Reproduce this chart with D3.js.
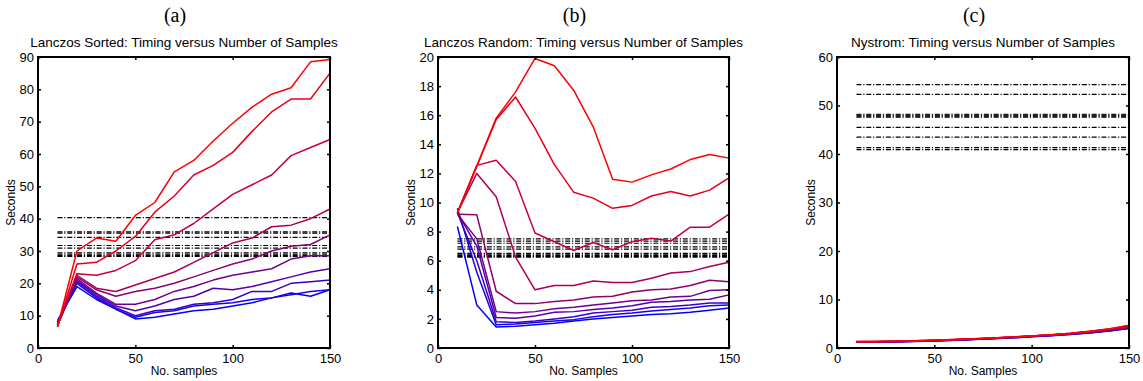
<!DOCTYPE html>
<html lang="en">
<head>
<meta charset="utf-8">
<script src="https://d3js.org/d3.v7.min.js"></script>
<style>
  body { margin: 0; background: #fff; }
  text { font-family: "Liberation Sans", Arial, sans-serif; fill: #000; }
</style>
</head>
<body>
<script>
// sample counts on the x axis
var samples = [10, 20, 30, 40, 50, 60, 70, 80, 90, 100, 110, 120, 130, 140, 150];
var xTicks = [0, 50, 100, 150];

// (a) Lanczos sorted, red -> blue
var sortedSeries = [
  [6.5, 30, 34, 33, 41, 45, 54.5, 58, 64, 69.5, 74.5, 78.5, 80.5, 88.5, 89.2],
  [6.5, 26, 26.5, 30, 34.5, 42, 47, 53.5, 56.5, 60.5, 67, 73, 77, 77, 85],
  [7, 23, 22.5, 24, 27, 33.5, 35, 38.5, 43, 47.5, 50.5, 53.5, 59.5, 62, 64.5],
  [7, 22.5, 18.5, 17.5, 19.5, 21.5, 23.5, 26.5, 29.5, 32.5, 34, 37.5, 38, 40, 43],
  [7, 22, 18, 16, 17.5, 18.5, 20, 22, 24, 26, 27.5, 30, 31.5, 32, 35],
  [7, 21.5, 17, 13.5, 13.5, 15, 17.5, 19, 21, 22.5, 23.5, 24.5, 27.5, 28.5, 28.5],
  [7, 21, 16.5, 13, 11.5, 13, 15, 16, 18.5, 18, 19, 20.5, 22, 23.5, 24.5],
  [7.5, 20.5, 16, 12.5, 10, 11.5, 12, 13.5, 14, 15, 17.5, 17.5, 20, 20.5, 21],
  [8, 20, 15.5, 12, 9.5, 11, 11.5, 13, 13.5, 14, 15, 15.5, 16.5, 17.5, 18],
  [8.5, 19, 15, 12, 9, 9.5, 10.5, 11.5, 12, 13, 14, 15.5, 17, 16, 18]
];
var sortedRefs = [40.3, 35.9, 35.5, 34.2, 31.7, 30.9, 29.4, 29.0, 28.6, 28.3];
var sortedTicks = [0, 10, 20, 30, 40, 50, 60, 70, 80, 90];

// (b) Lanczos random
var randomSeries = [
  [9.3, 12.5, 15.8, 17.6, 19.9, 19.4, 17.7, 15.2, 11.6, 11.4, 11.9, 12.3, 12.95, 13.3, 13.05],
  [9.3, 12.5, 15.7, 17.25, 15.1, 12.6, 10.7, 10.3, 9.6, 9.8, 10.45, 10.75, 10.45, 10.85, 11.7],
  [9.3, 12.55, 12.9, 11.45, 7.9, 7.3, 6.7, 7.25, 6.75, 7.3, 7.55, 7.35, 8.3, 8.3, 9.2],
  [9.3, 12.0, 10.4, 6.25, 4.0, 4.3, 4.3, 4.6, 4.5, 4.5, 4.8, 5.15, 5.25, 5.6, 5.9],
  [9.2, 9.15, 3.9, 3.05, 3.05, 3.2, 3.3, 3.5, 3.55, 3.85, 4.0, 4.05, 4.3, 4.65, 4.55],
  [9.2, 7.5, 2.5, 2.4, 2.5, 2.7, 2.8, 2.95, 3.1, 3.25, 3.3, 3.5, 3.55, 3.95, 4.0],
  [9.3, 7.0, 2.1, 2.05, 2.2, 2.45, 2.5, 2.65, 2.75, 2.9, 3.15, 3.2, 3.3, 3.35, 3.65],
  [9.3, 6.0, 1.8, 1.75, 1.85, 2.0, 2.15, 2.4, 2.5, 2.6, 2.8, 2.85, 2.95, 3.1, 3.1],
  [9.6, 5.2, 1.6, 1.65, 1.75, 1.85, 1.95, 2.15, 2.3, 2.4, 2.55, 2.65, 2.75, 2.9, 2.95],
  [8.35, 2.95, 1.45, 1.5, 1.6, 1.7, 1.85, 2.0, 2.1, 2.2, 2.3, 2.35, 2.45, 2.6, 2.75]
];
var randomRefs = [7.5, 7.35, 7.2, 6.95, 6.8, 6.5, 6.45, 6.35, 6.3, 6.25];
var randomTicks = [0, 2, 4, 6, 8, 10, 12, 14, 16, 18, 20];

// (c) Nystrom
var nystromSeries = [
  [1.35, 1.35, 1.4, 1.5, 1.6, 1.75, 1.9, 2.05, 2.25, 2.5, 2.75, 3.05, 3.45, 3.95, 4.7],
  [1.35, 1.35, 1.4, 1.5, 1.6, 1.75, 1.9, 2.05, 2.25, 2.5, 2.75, 3.05, 3.45, 3.9, 4.6],
  [1.3, 1.35, 1.4, 1.5, 1.6, 1.7, 1.85, 2.05, 2.25, 2.45, 2.7, 3.0, 3.4, 3.85, 4.5],
  [1.3, 1.3, 1.35, 1.45, 1.55, 1.7, 1.85, 2.0, 2.2, 2.45, 2.7, 3.0, 3.35, 3.8, 4.45],
  [1.3, 1.3, 1.35, 1.45, 1.55, 1.7, 1.85, 2.0, 2.2, 2.45, 2.7, 2.95, 3.35, 3.75, 4.35],
  [1.3, 1.3, 1.35, 1.45, 1.55, 1.65, 1.8, 2.0, 2.2, 2.4, 2.65, 2.95, 3.3, 3.7, 4.3],
  [1.25, 1.3, 1.35, 1.4, 1.5, 1.65, 1.8, 1.95, 2.15, 2.4, 2.65, 2.9, 3.25, 3.65, 4.2],
  [1.25, 1.25, 1.3, 1.4, 1.5, 1.65, 1.8, 1.95, 2.15, 2.35, 2.6, 2.9, 3.2, 3.6, 4.15],
  [1.25, 1.25, 1.3, 1.4, 1.5, 1.6, 1.75, 1.95, 2.1, 2.35, 2.6, 2.85, 3.15, 3.55, 4.05],
  [1.2, 1.25, 1.3, 1.35, 1.45, 1.6, 1.75, 1.9, 2.1, 2.3, 2.55, 2.8, 3.1, 3.5, 4.0]
];
var nystromRefs = [54.3, 52.3, 48.2, 48.0, 47.8, 47.6, 45.5, 43.5, 41.3, 40.9];
var nystromTicks = [0, 10, 20, 30, 40, 50, 60];

var svg = d3.select("body").append("svg")
  .attr("width", 1143)
  .attr("height", 381);

var plotTop = 57, plotBottom = 348;

// MATLAB style red -> blue ramp
function lineColor(i, n) {
  return d3.interpolateRgb("#ff0000", "#0000ff")(i / (n - 1));
}

function panel(opt) {
  var x = d3.scaleLinear().domain([0, 150]).range([opt.left, opt.right]);
  var y = d3.scaleLinear().domain([0, opt.ymax]).range([plotBottom, plotTop]);
  var g = svg.append("g");
  var mid = (opt.left + opt.right) / 2;

  g.append("text")
    .attr("x", mid - 9).attr("y", 22)
    .attr("text-anchor", "middle")
    .style("font-family", "'Liberation Serif', 'Times New Roman', serif")
    .style("font-size", "20px")
    .text(opt.letter);

  g.append("text")
    .attr("x", mid).attr("y", 47)
    .attr("text-anchor", "middle")
    .style("font-size", "13.5px")
    .text(opt.title);

  // reference timings: black dash-dot lines
  g.selectAll(".ref").data(opt.refs).enter().append("line")
    .attr("x1", x(10)).attr("x2", x(150))
    .attr("y1", function (d) { return y(d); })
    .attr("y2", function (d) { return y(d); })
    .attr("stroke", "#000")
    .attr("stroke-width", 1.2)
    .attr("stroke-dasharray", "5,1.8,1.2,1.8");

  var line = d3.line()
    .x(function (d, i) { return x(samples[i]); })
    .y(function (d) { return y(d); });

  var n = opt.series.length;
  d3.range(n).reverse().forEach(function (i) {
    g.append("path")
      .attr("d", line(opt.series[i]))
      .attr("fill", "none")
      .attr("stroke", lineColor(i, n))
      .attr("stroke-width", 1.5)
      .attr("stroke-linejoin", "round");
  });

  // axes with inward ticks, boxed
  var ax = g.append("g");
  ax.append("g").attr("transform", "translate(0," + plotBottom + ")")
    .call(d3.axisBottom(x).tickValues(xTicks).tickSize(-3).tickPadding(6));
  ax.append("g").attr("transform", "translate(0," + plotTop + ")")
    .call(d3.axisTop(x).tickValues(xTicks).tickSize(-3).tickFormat(""));
  ax.append("g").attr("transform", "translate(" + opt.left + ",0)")
    .call(d3.axisLeft(y).tickValues(opt.ticks).tickSize(-3).tickPadding(4));
  ax.append("g").attr("transform", "translate(" + opt.right + ",0)")
    .call(d3.axisRight(y).tickValues(opt.ticks).tickSize(-3).tickFormat(""));
  ax.selectAll(".domain").remove();
  ax.selectAll(".tick line").attr("stroke", "#000").attr("stroke-width", 1.5);
  ax.selectAll(".tick text")
    .style("font-family", "'Liberation Sans', Arial, sans-serif")
    .style("font-size", "13px")
    .attr("fill", "#000");

  g.append("rect")
    .attr("x", opt.left).attr("y", plotTop)
    .attr("width", opt.right - opt.left).attr("height", plotBottom - plotTop)
    .attr("fill", "none").attr("stroke", "#000").attr("stroke-width", 2);

  g.append("text")
    .attr("x", mid).attr("y", 375)
    .attr("text-anchor", "middle")
    .style("font-size", "12px")
    .text(opt.xlabel);

  g.append("text")
    .attr("transform", "translate(" + opt.ylabelX + "," + ((plotTop + plotBottom) / 2) + ") rotate(-90)")
    .attr("text-anchor", "middle")
    .style("font-size", "12px")
    .text("Seconds");
}

panel({
  letter: "(a)", title: "Lanczos Sorted: Timing versus Number of Samples",
  left: 38, right: 330, ymax: 90, ticks: sortedTicks,
  series: sortedSeries, refs: sortedRefs, xlabel: "No. samples", ylabelX: 15
});
panel({
  letter: "(b)", title: "Lanczos Random: Timing versus Number of Samples",
  left: 438, right: 729, ymax: 20, ticks: randomTicks,
  series: randomSeries, refs: randomRefs, xlabel: "No. Samples", ylabelX: 415
});
panel({
  letter: "(c)", title: "Nystrom: Timing versus Number of Samples",
  left: 837, right: 1129, ymax: 60, ticks: nystromTicks,
  series: nystromSeries, refs: nystromRefs, xlabel: "No. Samples", ylabelX: 815
});
</script>
</body>
</html>
